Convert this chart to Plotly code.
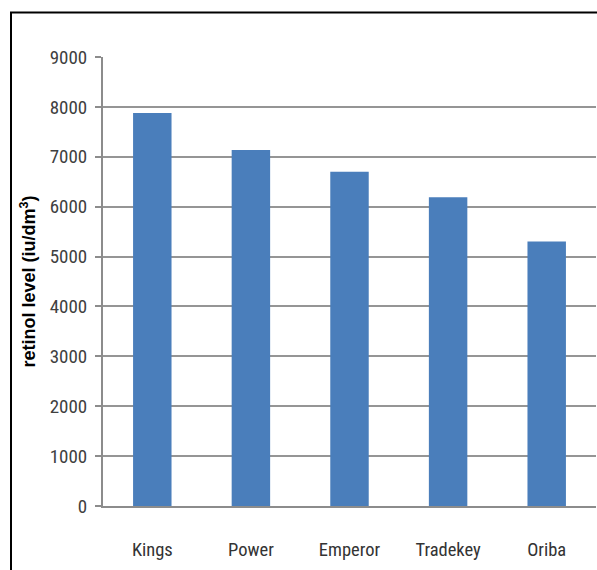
import plotly.graph_objects as go

categories = ["Kings", "Power", "Emperor", "Tradekey", "Oriba"]
retinol = [7880, 7135, 6700, 6190, 5300]
y_ticks = [0, 1000, 2000, 3000, 4000, 5000, 6000, 7000, 8000, 9000]

FONT = "Liberation Sans Narrow, Roboto Condensed, Open Sans Condensed, Arial Narrow, Liberation Sans, sans-serif"

fig = go.Figure()
fig.add_trace(go.Bar(
    x=categories, y=retinol,
    marker=dict(color="#4a7ebb", line=dict(width=0)),
))

W, H = 597, 570
ml, mr, mt, mb = 103, 1, 57, 64
pw, ph = W - ml - mr, H - mt - mb

def px_to_paper_x(px):
    return (px - ml) / pw

def px_to_paper_y(py):
    return (H - mb - py) / ph

fig.update_layout(
    width=W, height=H,
    margin=dict(l=ml, r=mr, t=mt, b=mb, pad=0),
    paper_bgcolor="white", plot_bgcolor="white",
    bargap=0.61,
    showlegend=False,
    font=dict(family=FONT, color="#404040"),
    xaxis=dict(
        showgrid=False, showline=True, linecolor="#8c8c8c", linewidth=2,
        ticks="", tickfont=dict(size=18.5, color="#333333", family=FONT),
        ticklabelstandoff=26,
    ),
    yaxis=dict(
        range=[0, 9000], tickvals=y_ticks,
        showgrid=True, gridcolor="#959595", gridwidth=2,
        showline=True, linecolor="#8c8c8c", linewidth=2,
        ticks="outside", ticklen=6, tickcolor="#8c8c8c", tickwidth=2,
        tickfont=dict(size=19, color="#404040", family=FONT),
        ticklabelstandoff=4,
        zeroline=False,
        title=dict(text="<b>retinol level (iu/dm<sup>3</sup>)</b>",
                   font=dict(size=18, color="#000000", family="Liberation Sans, Arial, sans-serif"),
                   standoff=9),
    ),
    shapes=[
        dict(type="line", xref="paper", yref="paper",
             x0=px_to_paper_x(11), x1=px_to_paper_x(11),
             y0=px_to_paper_y(12.5), y1=px_to_paper_y(H + 5),
             line=dict(color="black", width=2)),
        dict(type="line", xref="paper", yref="paper",
             x0=px_to_paper_x(10), x1=px_to_paper_x(W + 5),
             y0=px_to_paper_y(12.5), y1=px_to_paper_y(12.5),
             line=dict(color="black", width=2)),
    ],
)

fig.write_html("out.html")
